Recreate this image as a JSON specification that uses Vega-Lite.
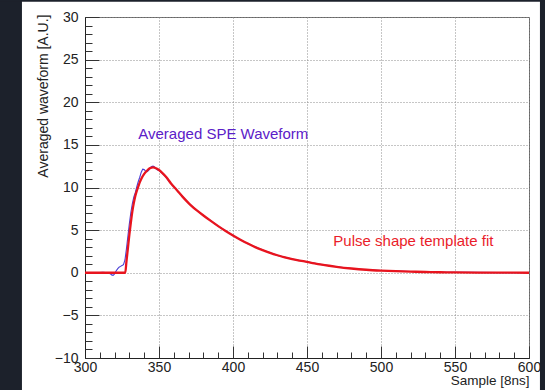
{
  "$schema": "https://vega.github.io/schema/vega-lite/v6.json",
  "width": 444,
  "height": 341,
  "autosize": {"type": "none"},
  "padding": {"left": 85, "top": 17, "right": 16, "bottom": 32},
  "background": "white",
  "config": {
    "view": {"stroke": "#666", "strokeWidth": 1, "fill": "white"},
    "font": "Liberation Sans"
  },
  "data": {"values": [{}]},
  "datasets": {
    "fit": [
      {"sample": 300, "value": 0}, {"sample": 327.2, "value": 0}, {"sample": 328, "value": 1.3},
      {"sample": 329, "value": 2.9}, {"sample": 330, "value": 4.5}, {"sample": 331, "value": 5.9},
      {"sample": 332, "value": 7.2}, {"sample": 333, "value": 8.2}, {"sample": 334, "value": 9.0},
      {"sample": 335, "value": 9.6}, {"sample": 336, "value": 10.1}, {"sample": 337, "value": 10.6},
      {"sample": 338, "value": 11.0}, {"sample": 340, "value": 11.6}, {"sample": 342, "value": 12.0},
      {"sample": 344, "value": 12.28}, {"sample": 346, "value": 12.35}, {"sample": 348, "value": 12.25},
      {"sample": 350, "value": 12.05}, {"sample": 352, "value": 11.75}, {"sample": 355, "value": 11.2},
      {"sample": 358, "value": 10.5}, {"sample": 362, "value": 9.7}, {"sample": 366, "value": 8.9},
      {"sample": 371, "value": 8.0}, {"sample": 376, "value": 7.25}, {"sample": 380, "value": 6.72},
      {"sample": 385, "value": 6.08}, {"sample": 390, "value": 5.47}, {"sample": 395, "value": 4.9},
      {"sample": 400, "value": 4.37}, {"sample": 405, "value": 3.88}, {"sample": 410, "value": 3.42},
      {"sample": 415, "value": 3.0}, {"sample": 420, "value": 2.65}, {"sample": 425, "value": 2.33},
      {"sample": 430, "value": 2.05}, {"sample": 435, "value": 1.8}, {"sample": 440, "value": 1.6},
      {"sample": 445, "value": 1.43}, {"sample": 450, "value": 1.27}, {"sample": 455, "value": 1.1},
      {"sample": 460, "value": 0.95}, {"sample": 465, "value": 0.82}, {"sample": 470, "value": 0.7},
      {"sample": 480, "value": 0.5}, {"sample": 490, "value": 0.35}, {"sample": 500, "value": 0.25},
      {"sample": 510, "value": 0.18}, {"sample": 520, "value": 0.13}, {"sample": 530, "value": 0.09},
      {"sample": 540, "value": 0.06}, {"sample": 550, "value": 0.04}, {"sample": 565, "value": 0.02},
      {"sample": 580, "value": 0.01}, {"sample": 600, "value": 0.0}
    ],
    "wave": [
      {"sample": 300, "value": 0}, {"sample": 302, "value": 0.02}, {"sample": 304, "value": -0.03},
      {"sample": 306, "value": 0.02}, {"sample": 308, "value": 0}, {"sample": 310, "value": 0.03},
      {"sample": 312, "value": 0.05}, {"sample": 314, "value": 0.02}, {"sample": 315, "value": 0.0},
      {"sample": 316, "value": -0.05}, {"sample": 317, "value": -0.1}, {"sample": 318, "value": -0.25},
      {"sample": 319, "value": -0.3}, {"sample": 320, "value": -0.15}, {"sample": 321, "value": 0.2},
      {"sample": 322, "value": 0.45}, {"sample": 323, "value": 0.65}, {"sample": 324, "value": 0.75},
      {"sample": 325, "value": 0.85}, {"sample": 326, "value": 0.95}, {"sample": 327, "value": 1.5},
      {"sample": 328, "value": 2.8}, {"sample": 329, "value": 4.3}, {"sample": 330, "value": 5.8},
      {"sample": 331, "value": 7.1}, {"sample": 332, "value": 8.1}, {"sample": 333, "value": 8.9},
      {"sample": 334, "value": 9.4}, {"sample": 335, "value": 10.1}, {"sample": 336, "value": 10.7},
      {"sample": 337, "value": 11.2}, {"sample": 338, "value": 11.8}, {"sample": 339, "value": 12.15},
      {"sample": 340, "value": 12.1}, {"sample": 341, "value": 11.9}, {"sample": 342, "value": 11.85},
      {"sample": 343, "value": 12.0}, {"sample": 344, "value": 12.3}, {"sample": 345, "value": 12.45},
      {"sample": 346, "value": 12.5}, {"sample": 347, "value": 12.4}, {"sample": 348, "value": 12.2},
      {"sample": 349, "value": 12.05}, {"sample": 350, "value": 12.0}, {"sample": 352, "value": 11.7},
      {"sample": 354, "value": 11.35}, {"sample": 356, "value": 10.9}, {"sample": 358, "value": 10.45},
      {"sample": 360, "value": 10.1}, {"sample": 363, "value": 9.5}, {"sample": 366, "value": 8.95},
      {"sample": 370, "value": 8.15}, {"sample": 375, "value": 7.4}, {"sample": 380, "value": 6.7},
      {"sample": 385, "value": 6.1}, {"sample": 390, "value": 5.45}, {"sample": 395, "value": 4.92},
      {"sample": 400, "value": 4.35}, {"sample": 410, "value": 3.4}, {"sample": 420, "value": 2.66},
      {"sample": 430, "value": 2.04}, {"sample": 440, "value": 1.6}, {"sample": 450, "value": 1.28},
      {"sample": 460, "value": 0.95}, {"sample": 470, "value": 0.71}, {"sample": 480, "value": 0.5},
      {"sample": 490, "value": 0.36}, {"sample": 500, "value": 0.26}, {"sample": 520, "value": 0.14},
      {"sample": 540, "value": 0.06}, {"sample": 560, "value": 0.04}, {"sample": 580, "value": 0.02},
      {"sample": 600, "value": 0.01}
    ],
    "labels": [
      {"sample": 336.0, "value": 16.33, "text": "Averaged SPE Waveform", "series": "wave"},
      {"sample": 467.8, "value": 3.67, "text": "Pulse shape template fit", "series": "fit"}
    ]
  },
  "resolve": {"axis": {"x": "independent", "y": "independent"}},
  "layer": [
    {
      "mark": {"type": "rect", "color": "#1c212b"},
      "encoding": {
        "x": {"datum": 230, "type": "quantitative", "scale": {"domain": [300, 600], "nice": false, "zero": false}, "axis": null},
        "x2": {"datum": 257.4},
        "y": {"datum": -20, "type": "quantitative", "scale": {"domain": [-10, 30], "nice": false, "zero": false}, "axis": null},
        "y2": {"datum": 40}
      }
    },
    {
      "mark": {"type": "rect", "color": "#1c212b"},
      "encoding": {
        "x": {"datum": 607.4, "type": "quantitative", "axis": null},
        "x2": {"datum": 630},
        "y": {"datum": -20, "type": "quantitative", "axis": null},
        "y2": {"datum": 40}
      }
    },
    {
      "mark": {"type": "rect", "color": "#1c212b"},
      "encoding": {
        "x": {"datum": 230, "type": "quantitative", "axis": null},
        "x2": {"datum": 630},
        "y": {"datum": 31.78, "type": "quantitative", "axis": null},
        "y2": {"datum": 40}
      }
    },
    {
      "data": {"name": "wave"},
      "mark": {"type": "line", "color": "#4a3fd6", "strokeWidth": 1.1},
      "encoding": {
        "x": {
          "field": "sample", "type": "quantitative",
          "axis": {"orient": "bottom", "values": [300, 350, 400, 450, 500, 550, 600], "grid": false, "domain": false, "labels": false, "ticks": true, "tickSize": -12, "tickColor": "#333", "tickWidth": 1, "title": null}
        },
        "y": {
          "field": "value", "type": "quantitative",
          "axis": {"orient": "left", "values": [-10, -5, 0, 5, 10, 15, 20, 25, 30], "grid": false, "domain": false, "labels": false, "ticks": true, "tickSize": -14, "tickColor": "#333", "tickWidth": 1, "title": null}
        }
      }
    },
    {
      "data": {"name": "fit"},
      "mark": {"type": "line", "color": "#e8141e", "strokeWidth": 2.3, "interpolate": "monotone"},
      "encoding": {
        "x": {
          "field": "sample", "type": "quantitative",
          "axis": {
            "orient": "bottom", "values": [300, 350, 400, 450, 500, 550, 600], "format": "d",
            "grid": true, "gridColor": "#8c8c8c", "gridDash": [1, 2], "gridWidth": 1, "gridOpacity": 1,
            "ticks": false, "domain": true, "domainColor": "#222", "domainWidth": 1,
            "labelFont": "Liberation Sans", "labelFontSize": 14, "labelColor": "#222", "labelPadding": 2,
            "labelFlush": false, "labelOverlap": false, "labelBound": false,
            "title": "Sample [8ns]", "titleFont": "Liberation Sans", "titleFontSize": 13.5, "titleFontWeight": "normal",
            "titleColor": "#222", "titleAnchor": "end", "titleAlign": "right", "titleX": 444, "titleY": 22, "titleBaseline": "middle"
          }
        },
        "y": {
          "field": "value", "type": "quantitative",
          "axis": {
            "orient": "left", "values": [-10, -5, 0, 5, 10, 15, 20, 25, 30], "format": "d",
            "grid": true, "gridColor": "#8c8c8c", "gridDash": [1, 2], "gridWidth": 1, "gridOpacity": 1,
            "ticks": false, "domain": true, "domainColor": "#222", "domainWidth": 1,
            "labelFont": "Liberation Sans", "labelFontSize": 14, "labelColor": "#222", "labelPadding": 7,
            "labelFlush": false, "labelOverlap": false, "labelBound": false,
            "title": "Averaged waveform [A.U.]", "titleFont": "Liberation Sans", "titleFontSize": 14, "titleFontWeight": "normal",
            "titleColor": "#222", "titleAnchor": "end", "titleAngle": -90, "titleAlign": "right", "titleX": -42, "titleY": -3, "titleBaseline": "middle"
          }
        }
      }
    },
    {
      "data": {"name": "labels"},
      "mark": {"type": "text", "align": "left", "baseline": "middle", "font": "Liberation Sans", "fontSize": 15},
      "encoding": {
        "x": {
          "field": "sample", "type": "quantitative",
          "axis": {"orient": "bottom", "values": [300, 310, 320, 330, 340, 350, 360, 370, 380, 390, 400, 410, 420, 430, 440, 450, 460, 470, 480, 490, 500, 510, 520, 530, 540, 550, 560, 570, 580, 590, 600], "grid": false, "domain": false, "labels": false, "ticks": true, "tickSize": -6, "tickColor": "#333", "tickWidth": 1, "title": null}
        },
        "y": {
          "field": "value", "type": "quantitative",
          "axis": {"orient": "left", "values": [-10, -9, -8, -7, -6, -5, -4, -3, -2, -1, 0, 1, 2, 3, 4, 5, 6, 7, 8, 9, 10, 11, 12, 13, 14, 15, 16, 17, 18, 19, 20, 21, 22, 23, 24, 25, 26, 27, 28, 29, 30], "grid": false, "domain": false, "labels": false, "ticks": true, "tickSize": -7, "tickColor": "#333", "tickWidth": 1, "title": null}
        },
        "text": {"field": "text"},
        "color": {"field": "series", "type": "nominal", "scale": {"domain": ["wave", "fit"], "range": ["#5b20c8", "#ea1c2a"]}, "legend": null}
      }
    }
  ]
}
